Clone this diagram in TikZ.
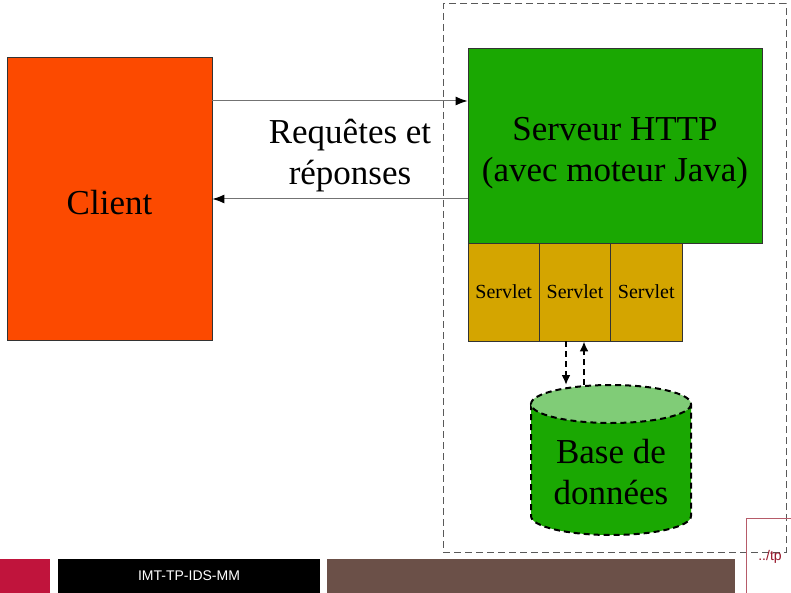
\documentclass[tikz,border=0pt]{standalone}
\usepackage{fontspec}
\setmainfont{Liberation Serif}
\newfontfamily\barfont{Liberation Sans}
\usetikzlibrary{arrows.meta,calc}
\definecolor{clientc}{RGB}{252,74,0}
\definecolor{serverc}{RGB}{26,168,2}
\definecolor{servletc}{RGB}{212,165,0}
\definecolor{dbtopc}{RGB}{128,204,119}
\definecolor{redbar}{RGB}{192,20,60}
\definecolor{brownbar}{RGB}{107,80,72}
\definecolor{tpred}{RGB}{150,20,40}
\begin{document}
\begin{tikzpicture}[x=1pt,y=-1pt,
  box/.style={draw=black!80,line width=0.8pt,inner sep=0pt,align=center},
  bigtxt/.style={font=\fontsize{35}{41}\selectfont},
  smalltxt/.style={font=\fontsize{20}{24}\selectfont},
  link/.style={draw=black!55,line width=1pt,-{Latex[length=12pt,width=9pt,fill=black,color=black]}},
  dblink/.style={draw=black,line width=2pt,dash pattern=on 6pt off 4pt,-{Latex[length=10pt,width=9pt]}},
  dbline/.style={draw=black,line width=2pt,dash pattern=on 6pt off 4pt},
  barbox/.style={inner sep=0pt,minimum height=34pt}]
\useasboundingbox[fill=white] (0,0) rectangle (791,593);
% container
\node[draw=black!65,line width=1pt,dash pattern=on 7pt off 4pt,minimum width=343pt,minimum height=548pt,inner sep=0pt] (cont) at (614.5,278) {};
% client
\node[box,fill=clientc,minimum width=205pt,minimum height=283pt] (client) at (109.5,198.5) {};
\node[bigtxt] (clienttxt) at (109.5,202.5) {Client};
% server
\node[box,fill=serverc,minimum width=294pt,minimum height=195pt] (server) at (615,145.5) {};
\node[bigtxt,align=center] (servertxt) at (615,153) {Serveur HTTP\\(avec moteur Java)};
% servlets
\node[box,fill=servletc,minimum width=71.3pt,minimum height=98pt,smalltxt] (s1) at (503.7,292) {Servlet};
\node[box,fill=servletc,minimum width=71.3pt,minimum height=98pt,smalltxt] (s2) at (575,292) {Servlet};
\node[box,fill=servletc,minimum width=71.3pt,minimum height=98pt,smalltxt] (s3) at (646.3,292) {Servlet};
% arrows client/server
\draw[link] (client.east |- 0,101) -- (server.west |- 0,101);
\draw[link] (server.west |- 0,199) -- (client.east |- 0,199);
\node[bigtxt,align=center] (req) at (350,156) {Requêtes et\\réponses};
% database
\path[fill=serverc] (531,404) -- (531,516) arc[start angle=180,end angle=0,x radius=80,y radius=19] -- (691,404) -- cycle;
\draw[dbline] (531,404) -- (531,516) arc[start angle=180,end angle=0,x radius=80,y radius=19] -- (691,404);
\draw[dbline,fill=dbtopc] (611,404) ellipse[x radius=80,y radius=19];
\node[bigtxt,align=center] (db) at (611,472) {Base de\\données};
\coordinate (dbin) at (566,385);
\coordinate (dbout) at (584,385);
\draw[dblink] (s2.south -| dbin) -- (dbin);
\draw[dblink] (dbout) -- (s2.south -| dbout);
% bottom bar
\node[barbox,fill=redbar,minimum width=50pt] (red) at (25,576) {};
\node[barbox,fill=black,minimum width=262pt,text=white,font=\barfont\fontsize{14}{16}\selectfont] (imt) at (189,576) {IMT-TP-IDS-MM};
\node[barbox,fill=brownbar,minimum width=408pt] (brown) at (531,576) {};
\draw[tpred!70,line width=0.8pt] (746,593) -- (746,518.5) -- (791,518.5);
\node[text=tpred,font=\barfont\fontsize{14}{16}\selectfont,inner sep=0pt] (tp) at (770,557) {../tp};
\end{tikzpicture}
\end{document}
